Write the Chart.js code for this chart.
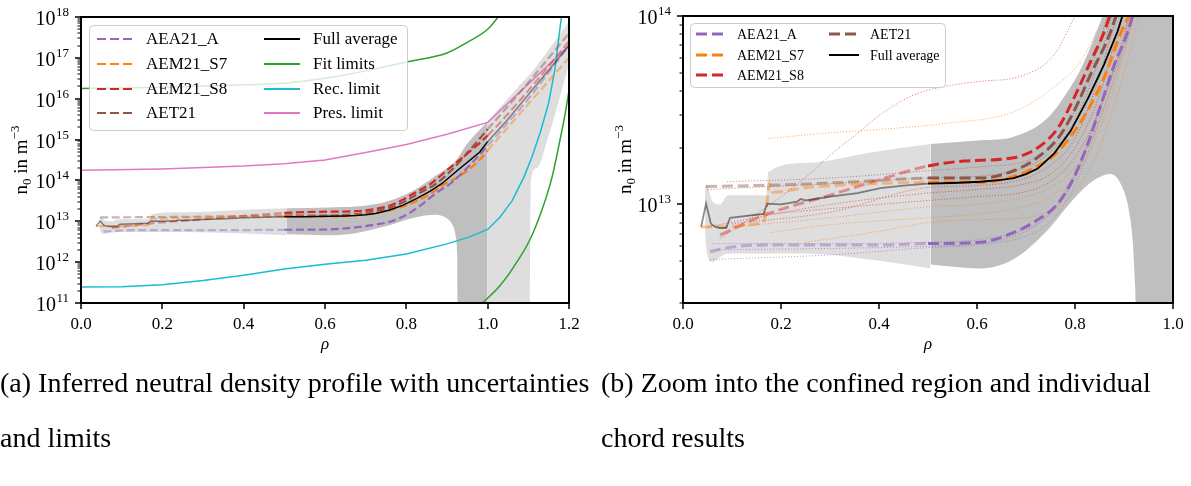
<!DOCTYPE html>
<html lang="en">
<head>
<meta charset="UTF-8">
<title>Neutral density profile</title>
<script src="https://cdn.jsdelivr.net/npm/chart.js@4"></script>
<style>
    body {
        margin: 0;
        width: 1191px;
        height: 486px;
        background: #fff;
        position: relative;
        overflow: hidden;
        font-family: "Liberation Serif", "Times New Roman", serif;
    }
    #panelA { position: absolute; left: 0; top: 0; width: 600px; height: 360px; }
    #panelB { position: absolute; left: 600px; top: 0; width: 591px; height: 360px; }
    .caption {
        position: absolute;
        top: 355px;
        font-size: 28px;
        line-height: 55px;
        color: #000;
        white-space: nowrap;
    }
</style>
</head>
<body>
<div id="panelA"><canvas id="chartA"></canvas></div>
<div id="panelB"><canvas id="chartB"></canvas></div>
<div class="caption" style="left:0">(a) Inferred neutral density profile with uncertainties<br>and limits</div>
<div class="caption" style="left:601px">(b) Zoom into the confined region and individual<br>chord results</div>

<script>
// ---- values (rho, n0 in m^-3) ----
const avgRho = [0.037, 0.047, 0.057, 0.066, 0.076, 0.088, 0.096, 0.13, 0.164, 0.172, 0.2, 0.233, 0.24, 0.25, 0.3, 0.356, 0.403, 0.45, 0.5, 0.55, 0.607, 0.65, 0.675, 0.7, 0.724, 0.757, 0.791, 0.826, 0.859, 0.887, 0.93, 0.98, 1.0, 1.05, 1.1, 1.15, 1.2];
const avgN0 = [7.6e12, 1.01e13, 7.9e12, 7.6e12, 7.5e12, 7.5e12, 8.5e12, 8.7e12, 8.9e12, 1.01e13, 1.0e13, 1.035e13, 1.07e13, 1.05e13, 1.1e13, 1.15e13, 1.22e13, 1.26e13, 1.29e13, 1.3e13, 1.32e13, 1.35e13, 1.38e13, 1.45e13, 1.55e13, 1.86e13, 2.45e13, 3.63e13, 5.5e13, 8.3e13, 1.9e14, 4.9e14, 8.9e14, 3.16e15, 1.26e16, 5.0e16, 2.0e17];

const aeaRho = [0.055, 0.09, 0.2, 0.403, 0.5, 0.607, 0.675, 0.724, 0.765, 0.797, 0.826, 0.853, 0.88, 0.908, 0.97, 1.0, 1.1, 1.2];
const aeaN0 = [5.6e12, 5.9e12, 6.1e12, 6.1e12, 6.2e12, 6.3e12, 7.1e12, 8.3e12, 1.01e13, 1.38e13, 2.09e13, 3.39e13, 5.5e13, 8.3e13, 3.3e14, 7.1e14, 1.0e16, 2.0e17];

const s7Rho = [0.037, 0.164, 0.171, 0.176, 0.184, 0.253, 0.389, 0.5, 0.607, 0.675, 0.72, 0.757, 0.791, 0.826, 0.859, 0.895, 0.93, 0.98, 1.0, 1.1, 1.2];
const s7N0 = [7.6e12, 8.0e12, 1.0e13, 1.29e13, 1.16e13, 1.23e13, 1.29e13, 1.31e13, 1.31e13, 1.41e13, 1.58e13, 1.82e13, 2.29e13, 3.16e13, 4.68e13, 8.3e13, 1.26e14, 3.16e14, 5.4e14, 7.4e15, 1.0e17];

const s8Rho = [0.076, 0.172, 0.3, 0.4, 0.5, 0.573, 0.675, 0.724, 0.765, 0.797, 0.832, 0.86, 0.9, 1.0, 1.1, 1.2];
const s8N0 = [6.9e12, 8.9e12, 1.12e13, 1.35e13, 1.6e13, 1.7e13, 1.77e13, 2.0e13, 2.54e13, 3.63e13, 5.75e13, 8.3e13, 1.78e14, 1.26e15, 1.58e16, 2.5e17];

const aetRho = [0.047, 0.2, 0.35, 0.5, 0.607, 0.675, 0.724, 0.765, 0.797, 0.832, 0.873, 0.914, 1.0, 1.1, 1.2];
const aetN0 = [1.245e13, 1.27e13, 1.32e13, 1.38e13, 1.38e13, 1.51e13, 1.78e13, 2.24e13, 3.09e13, 4.9e13, 8.3e13, 1.9e14, 1.78e15, 2.5e16, 4.0e17];

// limits (panel a only)
const fitUpRho = [0, 0.1, 0.2, 0.3, 0.4, 0.5, 0.6, 0.7, 0.8, 0.9, 0.95, 1.0, 1.03];
const fitUpN0 = [1.78e16, 1.82e16, 1.9e16, 2.04e16, 2.19e16, 2.4e16, 3.16e16, 4.8e16, 7.9e16, 1.32e17, 2.4e17, 5.0e17, 1.12e18];
const fitLoRho = [0.985, 1.029, 1.065, 1.102, 1.127, 1.146, 1.16, 1.175, 1.19, 1.2];
const fitLoN0 = [9.5e10, 2.57e11, 7.9e11, 3.24e12, 1.26e13, 4.5e13, 1.41e14, 7.1e14, 4.0e15, 1.58e16];
const recRho = [0, 0.1, 0.2, 0.3, 0.4, 0.5, 0.6, 0.7, 0.8, 0.9, 0.95, 1.0, 1.03, 1.06, 1.09, 1.11, 1.13, 1.15, 1.165, 1.18, 1.19];
const recN0 = [2.45e11, 2.5e11, 2.8e11, 3.55e11, 4.8e11, 6.8e11, 8.9e11, 1.12e12, 1.58e12, 2.8e12, 3.98e12, 6.3e12, 1.26e13, 3.16e13, 1.26e14, 4.0e14, 1.58e15, 7.9e15, 5.0e16, 7.9e17, 3.2e18];
const presRho = [0, 0.2, 0.4, 0.5, 0.6, 0.7, 0.8, 0.9, 1.0, 1.1, 1.2];
const presN0 = [1.78e14, 1.9e14, 2.24e14, 2.57e14, 3.16e14, 4.8e14, 7.6e14, 1.35e15, 2.63e15, 2.29e16, 2.0e17];

// uncertainty bands
const outerRho = [0.045, 0.049, 0.059, 0.075, 0.092, 0.1, 0.17, 0.174, 0.25, 0.39, 0.505];
const outerLo = [6.9e12, 5.5e12, 4.95e12, 5.25e12, 5.5e12, 5.5e12, 5.5e12, 5.5e12, 5.5e12, 5.07e12, 4.57e12];
const outerHi = [1.26e13, 1.26e13, 1.05e13, 1.0e13, 1.12e13, 1.12e13, 1.12e13, 1.48e13, 1.66e13, 1.9e13, 2.09e13];
const coreRho = [0.505, 0.607, 0.675, 0.744, 0.785, 0.812, 0.846, 0.873, 0.9, 0.91, 0.918, 0.922, 0.925, 0.927, 0.95, 1.0];
const coreLo = [4.8e12, 4.57e12, 5.13e12, 7.3e12, 9.8e12, 1.175e13, 1.38e13, 1.45e13, 1.175e13, 9.3e12, 6.3e12, 4.0e12, 1.6e12, 1e10, 1e10, 1e10];
const coreHi = [2.09e13, 2.19e13, 2.29e13, 2.88e13, 3.98e13, 5.25e13, 8.5e13, 1.32e14, 2.0e14, 2.4e14, 2.8e14, 3.1e14, 3.4e14, 3.6e14, 8.0e14, 2.82e15];
const edgeRho = [1.0, 1.104, 1.106, 1.12, 1.15, 1.2];
const edgeLo = [1e10, 1e10, 1.0e14, 2.0e14, 1.26e15, 7.1e16];
const edgeHi = [2.82e15, 4.0e16, 4.2e16, 6.3e16, 1.58e17, 7.9e17];

// individual chord results (panel b)
const chordSet = ['AEM21_S7', 'AEM21_S8', 'AEM21_S7', 'AEM21_S8', 'AET21', 'AET21', 'AEM21_S7', 'AEM21_S8', 'AEA21_A', 'AEA21_A', 'AEA21_A', 'AEM21_S8', 'AEM21_S7'];
const chordRho = [
    [0.18, 0.3, 0.5, 0.6, 0.7, 0.75, 0.8, 0.85, 0.9, 0.93],
    [0.13, 0.3, 0.5, 0.6, 0.7, 0.75, 0.8, 0.85, 0.9, 0.92],
    [0.1, 0.3, 0.5, 0.6, 0.7, 0.75, 0.8, 0.85, 0.9, 0.925],
    [0.05, 0.3, 0.5, 0.6, 0.7, 0.75, 0.8, 0.85, 0.88, 0.91],
    [0.05, 0.3, 0.5, 0.6, 0.7, 0.75, 0.8, 0.84, 0.87, 0.885],
    [0.09, 0.3, 0.5, 0.6, 0.7, 0.75, 0.8, 0.83, 0.86, 0.875],
    [0.25, 0.4, 0.5, 0.6, 0.7, 0.75, 0.8, 0.85, 0.9, 0.94],
    [0.1, 0.3, 0.5, 0.6, 0.7, 0.75, 0.8, 0.84, 0.88, 0.9],
    [0.06, 0.3, 0.5, 0.6, 0.7, 0.75, 0.8, 0.85, 0.9, 0.92],
    [0.055, 0.3, 0.5, 0.6, 0.7, 0.75, 0.8, 0.85, 0.9, 0.925],
    [0.055, 0.5, 0.7, 0.8, 0.85, 0.9, 0.915],
    [0.075, 0.15, 0.2, 0.266, 0.3, 0.362, 0.403, 0.47, 0.55, 0.607, 0.69, 0.757, 0.8],
    [0.174, 0.3, 0.4, 0.54, 0.675, 0.757, 0.812, 0.85]
];
const chordN0 = [
    [7.1e12, 7.8e12, 8.5e12, 8.9e12, 9.8e12, 1.1e13, 1.41e13, 2.5e13, 6.3e13, 1.26e14],
    [8.7e12, 9.5e12, 1.05e13, 1.1e13, 1.17e13, 1.32e13, 1.78e13, 3.16e13, 7.9e13, 1.26e14],
    [7.6e12, 8.5e12, 9.7e12, 1.0e13, 1.1e13, 1.23e13, 1.58e13, 2.8e13, 7.1e13, 1.26e14],
    [7.6e12, 1.0e13, 1.15e13, 1.2e13, 1.29e13, 1.45e13, 2.0e13, 3.8e13, 7.1e13, 1.26e14],
    [1.2e13, 1.29e13, 1.38e13, 1.41e13, 1.58e13, 1.9e13, 2.8e13, 5.0e13, 8.9e13, 1.26e14],
    [1.32e13, 1.38e13, 1.51e13, 1.58e13, 1.7e13, 2.0e13, 3.16e13, 5.0e13, 8.9e13, 1.26e14],
    [6.3e12, 7.2e12, 8.0e12, 8.3e12, 8.5e12, 9.3e12, 1.17e13, 2.0e13, 5.0e13, 1.26e14],
    [7.9e12, 9.1e12, 1.23e13, 1.26e13, 1.38e13, 1.62e13, 2.24e13, 4.0e13, 8.9e13, 1.26e14],
    [6.2e12, 6.2e12, 6.3e12, 6.5e12, 7.4e12, 8.9e12, 1.38e13, 3.16e13, 7.1e13, 1.12e14],
    [5.1e12, 5.4e12, 5.9e12, 6.1e12, 6.8e12, 8.1e12, 1.26e13, 2.8e13, 6.6e13, 1.12e14],
    [5.75e12, 6.0e12, 7.2e12, 1.45e13, 3.3e13, 7.6e13, 1.12e14],
    [6.6e12, 8.9e12, 1.1e13, 1.51e13, 1.82e13, 2.45e13, 3.0e13, 3.8e13, 4.3e13, 4.5e13, 4.8e13, 6.2e13, 1.0e14],
    [2.24e13, 2.4e13, 2.5e13, 2.7e13, 3.1e13, 4.2e13, 5.75e13, 8.9e13]
];

// axis ticks
const xTicksA = [0, 0.2, 0.4, 0.6, 0.8, 1.0, 1.2];
const xTicksB = [0, 0.2, 0.4, 0.6, 0.8, 1.0];
const yExpA = [11, 12, 13, 14, 15, 16, 17, 18];
const yExpB = [13, 14];
const minorMult = [2, 3, 4, 5, 6, 7, 8, 9];

// ---- styles ----
const FONT = '"Liberation Serif", "Times New Roman", serif';
const COLORS = {
    'AEA21_A': '#9467bd', 'AEM21_S7': '#ff7f0e', 'AEM21_S8': '#d62728', 'AET21': '#8c564b',
    'Full average': '#000000', 'Fit limits': '#2ca02c', 'Rec. limit': '#17becf', 'Pres. limit': '#e377c2'
};
const LIGHT = 'rgb(222,222,222)';
const DARK = 'rgb(191,191,191)';

function pts(xs, ys) {
    return xs.map((x, i) => ({ x: x, y: ys[i] }));
}

function rgba(hex, a) {
    const n = parseInt(hex.slice(1), 16);
    return 'rgba(' + (n >> 16) + ',' + ((n >> 8) & 255) + ',' + (n & 255) + ',' + a + ')';
}

// full colour only inside the confined region 0.5 <= rho <= 1
function inCore(c) {
    return c.p0.parsed.x >= 0.499 && c.p1.parsed.x <= 1.001;
}

function profile(xs, ys, color, width, dash, order, smooth) {
    const soft = rgba(color, 0.45);
    return {
        data: pts(xs, ys), borderColor: color, borderWidth: width, borderDash: dash,
        pointRadius: 0, fill: false, order: order,
        cubicInterpolationMode: smooth ? 'monotone' : 'default', tension: 0,
        segment: { borderColor: c => inCore(c) ? color : soft }
    };
}

function plain(xs, ys, color, width, order, smooth) {
    return {
        data: pts(xs, ys), borderColor: color, borderWidth: width, pointRadius: 0, fill: false,
        order: order, cubicInterpolationMode: smooth ? 'monotone' : 'default', tension: 0
    };
}

function band(xs, lo, hi, color, order) {
    const none = 'rgba(0,0,0,0)';
    return [
        { data: pts(xs, lo), borderColor: none, borderWidth: 0, pointRadius: 0, fill: false, order: order, cubicInterpolationMode: 'monotone' },
        { data: pts(xs, hi), borderColor: none, borderWidth: 0, pointRadius: 0, fill: '-1', backgroundColor: color, order: order, cubicInterpolationMode: 'monotone' }
    ];
}

function line(ctx, x1, y1, x2, y2) {
    ctx.beginPath();
    ctx.moveTo(x1, y1);
    ctx.lineTo(x2, y2);
    ctx.stroke();
}

function drawLegend(ctx, lg) {
    ctx.save();
    ctx.fillStyle = 'rgba(255,255,255,0.8)';
    ctx.strokeStyle = '#cccccc';
    ctx.lineWidth = 1;
    ctx.beginPath();
    ctx.roundRect(lg.box[0] + 0.5, lg.box[1] + 0.5, lg.box[2], lg.box[3], 4);
    ctx.fill();
    ctx.stroke();
    ctx.font = lg.size + 'px ' + FONT;
    ctx.textBaseline = 'middle';
    ctx.textAlign = 'left';
    lg.items.forEach(it => {
        const y = lg.rows[it.row];
        const x0 = lg.cols[it.col];
        ctx.strokeStyle = COLORS[it.label];
        ctx.lineWidth = it.dash.length ? lg.dashWidth : lg.solidWidth;
        ctx.setLineDash(it.dash);
        line(ctx, x0, y, x0 + lg.handle, y);
        ctx.setLineDash([]);
        ctx.fillStyle = '#000';
        ctx.fillText(it.label, x0 + lg.handle + lg.gap, y + 1);
    });
    ctx.restore();
}

function drawYLabel(ctx, bx, cy) {
    ctx.save();
    ctx.translate(bx, cy);
    ctx.rotate(-Math.PI / 2);
    const big = '19px ' + FONT, small = '13px ' + FONT;
    const parts = [['n', big, 0], ['0', small, 4], [' in m', big, 0], ['\u22123', small, -8]];
    let w = 0;
    parts.forEach(p => { ctx.font = p[1]; p.w = ctx.measureText(p[0]).width; w += p.w; });
    let x = -w / 2;
    ctx.fillStyle = '#000';
    ctx.textBaseline = 'alphabetic';
    ctx.textAlign = 'left';
    parts.forEach(p => { ctx.font = p[1]; ctx.fillText(p[0], x, p[2]); x += p.w; });
    ctx.restore();
}

function framePlugin(opt) {
    return {
        id: 'frame',
        afterDatasetsDraw(chart) {
            drawLegend(chart.ctx, opt.legend);
        },
        afterDraw(chart) {
            const ctx = chart.ctx, a = chart.chartArea;
            const xs = chart.scales.x, ys = chart.scales.y;
            ctx.save();
            ctx.strokeStyle = '#000';
            ctx.fillStyle = '#000';
            // ticks
            ctx.lineWidth = 1.5;
            opt.xTicks.forEach(t => {
                const px = Math.round(xs.getPixelForValue(t));
                line(ctx, px, a.bottom, px, a.bottom + 6);
            });
            opt.yExp.forEach(e => {
                const py = Math.round(ys.getPixelForValue(Math.pow(10, e)));
                line(ctx, a.left - 6, py, a.left, py);
            });
            ctx.lineWidth = 1;
            for (let e = opt.yExp[0] - 1; e <= opt.yExp[opt.yExp.length - 1]; e++) {
                minorMult.forEach(m => {
                    const v = m * Math.pow(10, e);
                    if (v < ys.min || v > ys.max) return;
                    const py = Math.round(ys.getPixelForValue(v));
                    line(ctx, a.left - 3.5, py, a.left, py);
                });
            }
            // frame
            ctx.lineWidth = 2;
            ctx.strokeRect(a.left, a.top, a.right - a.left, a.bottom - a.top);
            // x tick labels
            ctx.font = '17px ' + FONT;
            ctx.textAlign = 'center';
            ctx.textBaseline = 'alphabetic';
            opt.xTicks.forEach(t => {
                ctx.fillText(t.toFixed(1), xs.getPixelForValue(t), a.bottom + 26);
            });
            // y tick labels 10^n
            opt.yExp.forEach(e => {
                const py = ys.getPixelForValue(Math.pow(10, e));
                const right = a.left - 12;
                ctx.textAlign = 'left';
                ctx.font = '13px ' + FONT;
                const ws = ctx.measureText(String(e)).width;
                ctx.fillText(String(e), right - ws, py - 1);
                ctx.font = '20px ' + FONT;
                const wb = ctx.measureText('10').width;
                ctx.fillText('10', right - ws - wb - 0.5, py + 8);
            });
            // axis titles
            ctx.font = 'italic 17px ' + FONT;
            ctx.textAlign = 'center';
            ctx.fillText('\u03c1', (a.left + a.right) / 2, a.bottom + 46);
            drawYLabel(ctx, opt.yLabelX, (a.top + a.bottom) / 2);
            ctx.restore();
        }
    };
}

function makeChart(id, datasets, opt) {
    return new Chart(document.getElementById(id), {
        type: 'line',
        data: { datasets: datasets },
        options: {
            responsive: true,
            maintainAspectRatio: false,
            animation: false,
            events: [],
            devicePixelRatio: 1,
            layout: { padding: opt.padding },
            scales: {
                x: { type: 'linear', min: opt.xMin, max: opt.xMax, display: false },
                y: { type: 'logarithmic', min: opt.yMin, max: opt.yMax, display: false }
            },
            plugins: { legend: { display: false }, tooltip: { enabled: false } }
        },
        plugins: [framePlugin(opt)]
    });
}

// ---- panel (a) ----
const dashA = [8, 3.6];
const dsA = [
    plain(recRho, recN0, COLORS['Rec. limit'], 1.5, 3, false),
    plain(presRho, presN0, COLORS['Pres. limit'], 1.5, 3, false),
    plain(fitUpRho, fitUpN0, COLORS['Fit limits'], 1.5, 3, true),
    plain(fitLoRho, fitLoN0, COLORS['Fit limits'], 1.5, 3, true),
    profile(aeaRho, aeaN0, COLORS['AEA21_A'], 2.2, dashA, 2, true),
    profile(s7Rho, s7N0, COLORS['AEM21_S7'], 2.2, dashA, 2, true),
    profile(s8Rho, s8N0, COLORS['AEM21_S8'], 2.2, dashA, 2, true),
    profile(aetRho, aetN0, COLORS['AET21'], 2.2, dashA, 2, true),
    profile(avgRho, avgN0, '#000000', 1.5, [], 1, false)
].concat(band(outerRho, outerLo, outerHi, LIGHT, 10))
 .concat(band(coreRho, coreLo, coreHi, DARK, 10))
 .concat(band(edgeRho, edgeLo, edgeHi, LIGHT, 10));

makeChart('chartA', dsA, {
    padding: { left: 81, right: 31, top: 17, bottom: 57 },
    xMin: 0, xMax: 1.2, yMin: 1e11, yMax: 1e18,
    xTicks: xTicksA, yExp: yExpA, yLabelX: 27,
    legend: {
        box: [89, 25, 318, 105], size: 17, rows: [39, 64, 89, 113], cols: [97, 264],
        handle: 36, gap: 13, dashWidth: 2.2, solidWidth: 2,
        items: [
            { label: 'AEA21_A', col: 0, row: 0, dash: [9, 4] },
            { label: 'AEM21_S7', col: 0, row: 1, dash: [9, 4] },
            { label: 'AEM21_S8', col: 0, row: 2, dash: [9, 4] },
            { label: 'AET21', col: 0, row: 3, dash: [9, 4] },
            { label: 'Full average', col: 1, row: 0, dash: [] },
            { label: 'Fit limits', col: 1, row: 1, dash: [] },
            { label: 'Rec. limit', col: 1, row: 2, dash: [] },
            { label: 'Pres. limit', col: 1, row: 3, dash: [] }
        ]
    }
});

// ---- panel (b) ----
const dashB = [11, 4.8];
const chordSets = chordRho.map((r, i) => ({
    data: pts(r, chordN0[i]), borderColor: rgba(COLORS[chordSet[i]], 0.65), borderWidth: 0.9,
    borderDash: [1.2, 1.8], pointRadius: 0, fill: false, order: 5, cubicInterpolationMode: 'monotone'
}));
const dsB = [
    profile(aeaRho, aeaN0, COLORS['AEA21_A'], 3, dashB, 2, true),
    profile(s7Rho, s7N0, COLORS['AEM21_S7'], 3, dashB, 2, true),
    profile(s8Rho, s8N0, COLORS['AEM21_S8'], 3, dashB, 2, true),
    profile(aetRho, aetN0, COLORS['AET21'], 3, dashB, 2, true),
    profile(avgRho, avgN0, '#000000', 1.8, [], 1, false)
].concat(chordSets)
 .concat(band(outerRho, outerLo, outerHi, LIGHT, 10))
 .concat(band(coreRho, coreLo, coreHi, DARK, 10));

makeChart('chartB', dsB, {
    padding: { left: 83, right: 18, top: 16, bottom: 57 },
    xMin: 0, xMax: 1.0, yMin: 3e12, yMax: 1e14,
    xTicks: xTicksB, yExp: yExpB, yLabelX: 31,
    legend: {
        box: [90, 23, 255, 64], size: 14, rows: [34, 55, 75], cols: [96, 229],
        handle: 30, gap: 11, dashWidth: 3, solidWidth: 2,
        items: [
            { label: 'AEA21_A', col: 0, row: 0, dash: [11, 5] },
            { label: 'AEM21_S7', col: 0, row: 1, dash: [11, 5] },
            { label: 'AEM21_S8', col: 0, row: 2, dash: [11, 5] },
            { label: 'AET21', col: 1, row: 0, dash: [11, 5] },
            { label: 'Full average', col: 1, row: 1, dash: [] }
        ]
    }
});
</script>
</body>
</html>
